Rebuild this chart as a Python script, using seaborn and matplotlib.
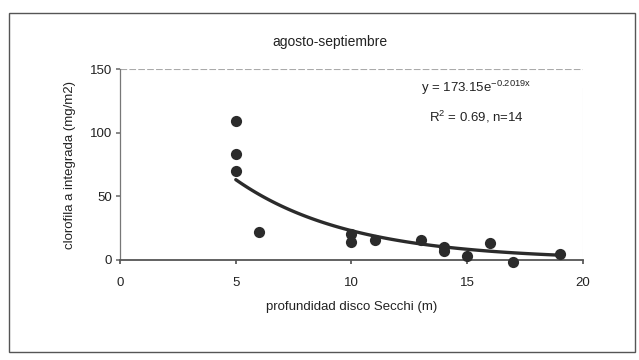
import numpy as np
import pandas as pd
import matplotlib
matplotlib.use("Agg")
import matplotlib.pyplot as plt
import seaborn as sns
from matplotlib.patches import Rectangle

# values
secchi = [5, 5, 5, 6, 10, 10, 11, 13, 14, 14, 15, 16, 17, 19]
clorofila = [109, 83, 70, 22, 20, 14, 16, 16, 10, 7, 3, 13, -2, 5]
# trendline shown on the chart: y = a * exp(b * x)
fit_a = 173.15
fit_b = -0.2019
fit_range = [5, 19]
x_ticks = [0, 5, 10, 15, 20]
y_ticks = [0, 50, 100, 150]

sns.set_theme(style="white")
plt.rcParams['font.family'] = ['Liberation Sans', 'DejaVu Sans']
plt.rcParams['mathtext.fontset'] = 'custom'
plt.rcParams['mathtext.rm'] = 'Liberation Sans'
plt.rcParams['mathtext.it'] = 'Liberation Sans:italic'

df = pd.DataFrame({'secchi': secchi, 'clorofila': clorofila})
xs = np.linspace(fit_range[0], fit_range[1], 100)
fit = pd.DataFrame({'x': xs, 'y': fit_a * np.exp(fit_b * xs)})

fig = plt.figure(figsize=(6.39, 3.6), dpi=100)
ax = fig.add_axes([0.188, 0.278, 0.724, 0.53])
ink = '#2b2b2b'

sns.lineplot(data=fit, x='x', y='y', ax=ax, color=ink, linewidth=2.4, zorder=2)
sns.scatterplot(data=df, x='secchi', y='clorofila', ax=ax, color=ink, s=65,
                edgecolor=ink, linewidth=0, zorder=3, clip_on=False)

ax.set_xlim(0, 20)
ax.set_ylim(0, 150)
ax.set_xticks(x_ticks)
ax.set_yticks(y_ticks)
ax.axhline(150, color='#aaaaaa', linewidth=0.8, linestyle=(0, (6, 2)))

for side in ['top', 'right']:
    ax.spines[side].set_visible(False)
ax.spines['left'].set_color('#777777')
ax.spines['left'].set_linewidth(0.9)
ax.spines['bottom'].set_color('#555555')
ax.spines['bottom'].set_linewidth(1.3)
ax.axvline(20, ymin=0, ymax=0.9, color='#dddddd', linewidth=0.8)

ax.tick_params(axis='y', left=True, length=3, color='#777777', labelsize=9.5,
               labelcolor='#222222', pad=3)
ax.tick_params(axis='x', bottom=True, length=3, color='#555555', labelsize=9.5,
               labelcolor='#222222', pad=9)

ax.set_xlabel('profundidad disco Secchi (m)', fontsize=9.5, color='#222222', labelpad=9)
ax.set_ylabel('clorofila a integrada (mg/m2)', fontsize=9.5, color='#222222', labelpad=10)
fig.text(0.517, 0.883, 'agosto-septiembre', ha='center', va='center',
         fontsize=10, color='#222222')

ax.text(0.77, 0.90, r'y = 173.15e$^{\mathrm{-0.2019x}}$', transform=ax.transAxes,
        ha='center', va='center', fontsize=9.5, color='#222222')
ax.text(0.77, 0.75, r'R$^{2}$ = 0.69, n=14', transform=ax.transAxes,
        ha='center', va='center', fontsize=9.5, color='#222222')

# outer chart frame
fig.patches.append(Rectangle((0.014, 0.022), 0.98, 0.943, transform=fig.transFigure,
                             fill=False, edgecolor='#555555', linewidth=1.0))

fig.savefig('out.png', dpi=100)
